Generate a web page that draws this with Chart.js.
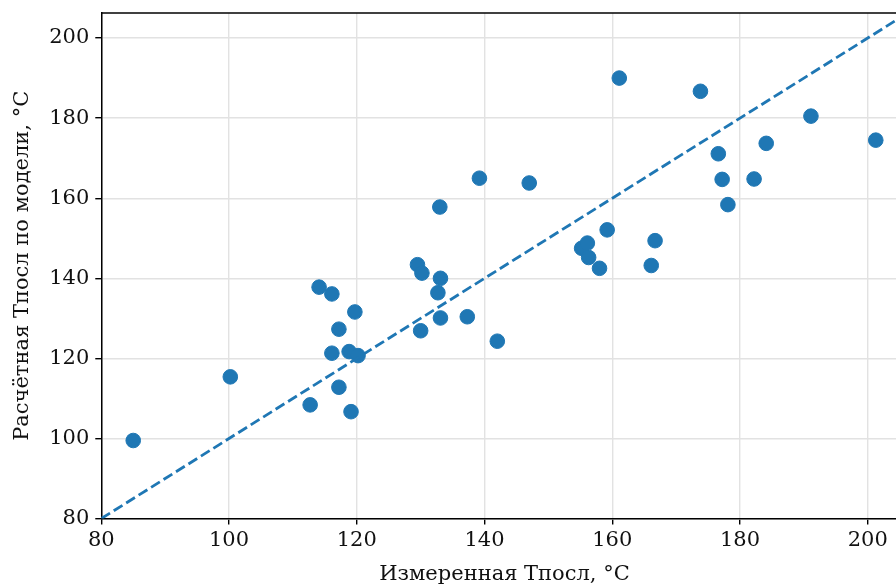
<!DOCTYPE html>
<html>
<head>
<meta charset="utf-8">
<script src="https://cdn.jsdelivr.net/npm/chart.js@4/dist/chart.umd.min.js"></script>
<style>
  html, body { margin: 0; padding: 0; background: #fff; overflow: hidden; }
  #wrap { width: 916px; height: 584px; }
</style>
</head>
<body>
<div id="wrap"><canvas id="myChart" width="916" height="584"></canvas></div>
<script>
// измеренная и расчётная Тпосл, °C
var measured = [85.0, 100.2, 112.7, 114.1, 116.1, 116.1, 117.2, 117.2, 118.8, 119.1,
                119.7, 120.2, 129.5, 130.2, 130.0, 132.7, 133.1, 133.0, 133.1, 137.3,
                139.2, 142.0, 147.0, 155.2, 156.1, 156.3, 158.0, 159.2, 161.1, 166.1,
                166.7, 173.8, 176.6, 177.2, 178.1, 182.2, 184.1, 191.1, 201.25];
var predicted = [99.5, 115.4, 108.4, 137.8, 136.1, 121.3, 127.3, 112.8, 121.7, 106.7,
                 131.6, 120.7, 143.4, 141.3, 126.9, 136.4, 140.0, 157.8, 130.1, 130.4,
                 165.0, 124.3, 163.8, 147.5, 148.8, 145.2, 142.5, 152.1, 190.0, 143.2,
                 149.4, 186.7, 171.1, 164.7, 158.4, 164.8, 173.7, 180.5, 174.5];
var diagX = [80, 206.25];
var axisMin = 80, axisMax = 206.25;
var tickVals = [80, 100, 120, 140, 160, 180, 200];

var font = { family: "'DejaVu Serif', serif", size: 21 };
var yTickFont = { family: "'DejaVu Serif', serif", size: 21, lineHeight: 0.6 };
var blue = '#1f77b4';
var gridCol = '#e2e2e2';

var points = measured.map(function(x, i){ return {x: x, y: predicted[i]}; });
var diag = diagX.map(function(v){ return {x: v, y: v}; });

function fixTicks(axis){
  axis.ticks = tickVals.map(function(v){ return {value: v}; });
}

var topBorder = {
  id: 'topBorder',
  afterDraw: function(chart){
    var a = chart.chartArea, ctx = chart.ctx;
    ctx.save();
    ctx.strokeStyle = '#000';
    ctx.lineWidth = 1.5;
    ctx.beginPath();
    ctx.moveTo(a.left, a.top);
    ctx.lineTo(a.right, a.top);
    ctx.stroke();
    ctx.restore();
  }
};

new Chart(document.getElementById('myChart').getContext('2d'), {
  type: 'scatter',
  data: {
    datasets: [
      {
        data: points,
        backgroundColor: blue,
        borderColor: blue,
        pointRadius: 7.3,
        pointHoverRadius: 7.3,
        order: 1
      },
      {
        type: 'line',
        data: diag,
        borderColor: blue,
        borderWidth: 2.8,
        borderDash: [10.3, 4.4],
        pointRadius: 0,
        fill: false,
        order: 0
      }
    ]
  },
  options: {
    responsive: false,
    animation: false,
    layout: { padding: { top: 13, right: 2, left: 10, bottom: -3 } },
    plugins: { legend: { display: false }, tooltip: { enabled: false } },
    scales: {
      x: {
        type: 'linear',
        min: axisMin, max: axisMax,
        afterBuildTicks: fixTicks,
        grid: { color: gridCol, lineWidth: 1.4, tickColor: '#000', tickLength: 6, drawTicks: true },
        border: { color: '#000', width: 1.5 },
        ticks: { color: '#111', font: font, padding: 3, maxRotation: 0 },
        title: { display: true, text: 'Измеренная Тпосл, °C', color: '#111', font: font, padding: { top: 6, bottom: 0 } }
      },
      y: {
        type: 'linear',
        min: axisMin, max: axisMax,
        afterBuildTicks: fixTicks,
        grid: { color: gridCol, lineWidth: 1.4, tickColor: '#000', tickLength: 6, drawTicks: true },
        border: { color: '#000', width: 1.5 },
        ticks: { color: '#111', font: yTickFont, padding: 6 },
        title: { display: true, text: 'Расчётная Тпосл по модели, °C', color: '#111', font: font, padding: { top: 0, bottom: 8 } }
      }
    }
  },
  plugins: [topBorder]
});
</script>
</body>
</html>
